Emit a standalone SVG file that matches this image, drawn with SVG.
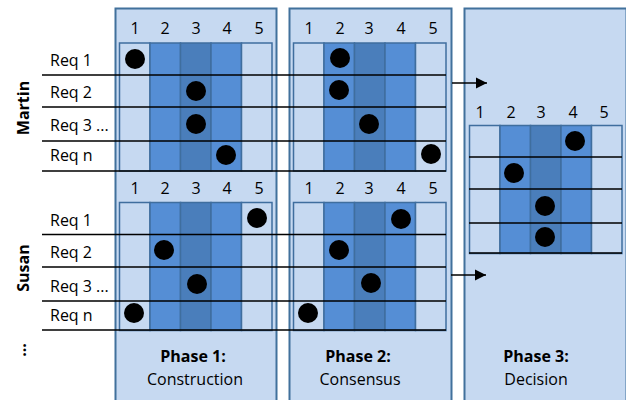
<svg xmlns="http://www.w3.org/2000/svg" width="626" height="400" viewBox="0 0 626 400">
<defs>
<style>
.panel{fill:#C6D9F1;stroke:#41719C;stroke-width:2}
.lt{fill:#C6D9F1;stroke:#3F6E9E;stroke-width:1.5}
.md{fill:#558ED5;stroke:#3F6E9E;stroke-width:1.5}
.dk{fill:#4A7EBB;stroke:#3F6E9E;stroke-width:1.5}
.dot{fill:#000}
.row{stroke:#000;stroke-width:1.6;fill:none}
.arr{stroke:#000;stroke-width:1.6;fill:none;marker-end:url(#ah)}
text{font-family:"Open Sans","Liberation Sans",sans-serif;fill:#000}
.num{font-size:16px;text-anchor:middle}
.req{font-size:16px}
.name{font-size:16px;font-weight:bold;text-anchor:middle}
.ph{font-size:16px;font-weight:bold;text-anchor:middle}
.sub{font-size:16px;text-anchor:middle}
</style>
<marker id="ah" markerWidth="12" markerHeight="12" refX="11" refY="6" orient="auto" markerUnits="userSpaceOnUse">
<path d="M0,0.5 L11,6 L0,11.5 Z" fill="#000"/>
</marker>
<g id="cols">
<rect class="lt" x="0" y="0" width="30.5" height="128"/>
<rect class="md" x="30.5" y="0" width="30.5" height="128"/>
<rect class="dk" x="61" y="0" width="30.5" height="128"/>
<rect class="md" x="91.5" y="0" width="30.5" height="128"/>
<rect class="lt" x="122" y="0" width="30.5" height="128"/>
</g>
</defs>

<g id="phase1">
<rect class="panel" x="115.5" y="8.5" width="161" height="400"/>
<text class="num" x="135" y="34">1</text><text class="num" x="165" y="34">2</text><text class="num" x="196" y="34">3</text><text class="num" x="227" y="34">4</text><text class="num" x="259" y="34">5</text>
<text class="num" x="135" y="194">1</text><text class="num" x="165" y="194">2</text><text class="num" x="196" y="194">3</text><text class="num" x="227" y="194">4</text><text class="num" x="259" y="194">5</text>
<text class="ph" x="193" y="362">Phase 1:</text>
<text class="sub" x="195" y="385">Construction</text>
</g>
<g id="phase2">
<rect class="panel" x="289.5" y="8.5" width="162" height="400"/>
<text class="num" x="309" y="34">1</text><text class="num" x="340" y="34">2</text><text class="num" x="369" y="34">3</text><text class="num" x="401" y="34">4</text><text class="num" x="433" y="34">5</text>
<text class="num" x="309" y="194">1</text><text class="num" x="340" y="194">2</text><text class="num" x="369" y="194">3</text><text class="num" x="401" y="194">4</text><text class="num" x="433" y="194">5</text>
<text class="ph" x="358" y="362">Phase 2:</text>
<text class="sub" x="360" y="385">Consensus</text>
</g>
<g id="phase3">
<rect class="panel" x="464.5" y="8.5" width="162" height="400"/>
<text class="num" x="480" y="118">1</text><text class="num" x="511" y="118">2</text><text class="num" x="541" y="118">3</text><text class="num" x="573" y="118">4</text><text class="num" x="604" y="118">5</text>
<text class="ph" x="536" y="362">Phase 3:</text>
<text class="sub" x="536" y="385">Decision</text>
</g>

<g id="grid-p1-martin">
<use href="#cols" x="119.5" y="43"/>
<circle class="dot" cx="135" cy="59" r="10"/><circle class="dot" cx="196" cy="91" r="10"/><circle class="dot" cx="196" cy="124" r="10"/><circle class="dot" cx="226" cy="155" r="10"/>
</g>
<g id="grid-p1-susan">
<use href="#cols" x="119.5" y="202.5"/>
<circle class="dot" cx="257" cy="218" r="10"/><circle class="dot" cx="164" cy="250" r="10"/><circle class="dot" cx="197" cy="284" r="10"/><circle class="dot" cx="134" cy="313" r="10"/>
</g>
<g id="grid-p2-martin">
<use href="#cols" x="293.5" y="43"/>
<circle class="dot" cx="340" cy="58" r="10"/><circle class="dot" cx="339" cy="90" r="10"/><circle class="dot" cx="369" cy="124" r="10"/><circle class="dot" cx="431" cy="154" r="10"/>
</g>
<g id="grid-p2-susan">
<use href="#cols" x="293.5" y="202.5"/>
<circle class="dot" cx="401" cy="219" r="10"/><circle class="dot" cx="339" cy="250" r="10"/><circle class="dot" cx="371" cy="283" r="10"/><circle class="dot" cx="308" cy="313" r="10"/>
</g>
<g id="grid-p3">
<use href="#cols" x="469.5" y="125.5"/>
<circle class="dot" cx="575" cy="141" r="10"/><circle class="dot" cx="514" cy="173" r="10"/><circle class="dot" cx="545" cy="206" r="10"/><circle class="dot" cx="545" cy="237" r="10"/>
</g>

<g id="martin">
<text class="name" transform="translate(29,108) rotate(-90)">Martin</text>
<text class="req" x="50" y="66">Req 1</text>
<text class="req" x="50" y="98">Req 2</text>
<text class="req" x="50" y="131">Req 3 ...</text>
<text class="req" x="50" y="161">Req n</text>
</g>
<g id="susan">
<text class="name" transform="translate(29,268) rotate(-90)">Susan</text>
<text class="req" x="50" y="226">Req 1</text>
<text class="req" x="50" y="258">Req 2</text>
<text class="req" x="50" y="292">Req 3 ...</text>
<text class="req" x="50" y="321">Req n</text>
</g>
<g id="more">
<text class="name" transform="translate(26,350) rotate(-90)">...</text>
</g>

<g id="connectors">
<path class="row" d="M42,75H446M42,107H446M42,141H446M42,171H446"/>
<path class="row" d="M42,234.5H446M42,267H446M42,301H446M42,330H446"/>
<path class="row" d="M469,157H622M469,189H622M469,223H622M469,253H622"/>
<path class="arr" d="M452,83H487"/>
<path class="arr" d="M451,275H486"/>
</g>
</svg>
